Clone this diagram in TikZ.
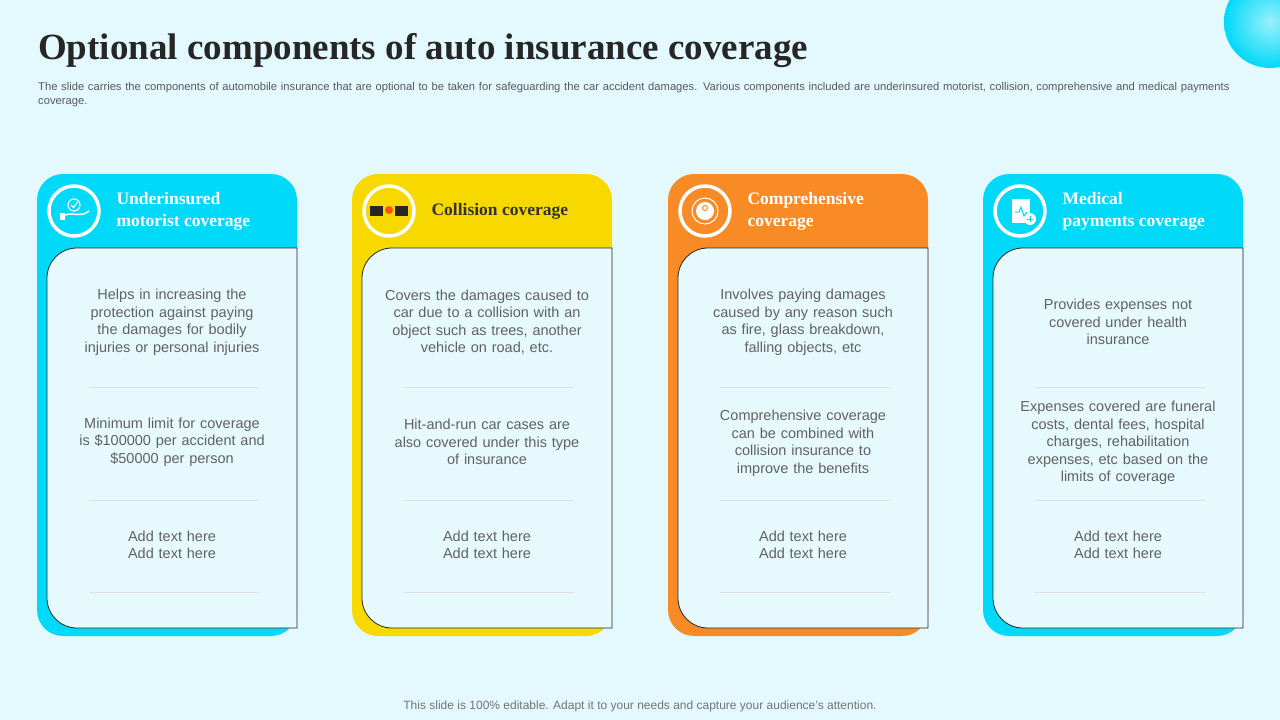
\documentclass[tikz,border=0pt]{standalone}
\usepackage{fontspec}
\setmainfont{Liberation Serif}
\setsansfont{Liberation Sans}
\begin{document}
\begin{tikzpicture}[x=1pt,y=-1pt,
  body/.style={font=\sffamily\fontsize{14.5}{17.5}\selectfont, text=black!62, align=center, text width=210pt},
  head/.style={font=\bfseries\fontsize{17.5}{22}\selectfont, anchor=west, align=left},
  sep/.style={draw=black!12, line width=0.8pt},
  ring/.style={circle, draw=white, line width=3.5pt, minimum size=50pt}]
\definecolor{bg}{HTML}{E4F9FE}
\definecolor{cy}{HTML}{00D9F7}
\definecolor{ye}{HTML}{F7D900}
\definecolor{or}{HTML}{F88B25}
\definecolor{panel}{HTML}{E6FAFE}
\useasboundingbox (0,0) rectangle (1280,720);
\fill[bg] (0,0) rectangle (1280,720);
\begin{scope}
\clip (0,0) rectangle (1280,720);
\shade[inner color=cy!40, outer color=cy] (1270,22) circle (46);
\end{scope}
\node[anchor=west, font=\bfseries\fontsize{37}{42}\selectfont, text=black!85, inner sep=0] (title) at (38,51) {Optional components of auto insurance coverage};
\node[anchor=north west, font=\sffamily\fontsize{11.2}{14.5}\selectfont, text=black!65, text width=1205pt, align=left, inner sep=0] (sub) at (38,82) {The slide carries the components of automobile insurance that are optional to be taken for safeguarding the car accident damages. Various components included are underinsured motorist, collision, comprehensive and medical payments coverage.};
\node[font=\sffamily\fontsize{12}{14}\selectfont, text=black!55] (foot) at (640,706) {This slide is 100\% editable. Adapt it to your needs and capture your audience's attention.};
\foreach \x/\c/\tc/\t/\i [count=\k] in {
  37/cy/white/{Underinsured\\motorist coverage}/1,
  352/ye/black!80/{Collision coverage}/2,
  668/or/white/{Comprehensive\\coverage}/3,
  983/cy/white/{Medical\\payments coverage}/4}{
  \fill[\c, rounded corners=26pt] (\x,174) rectangle ++(260,462);
  \draw[black!85, fill=panel, line width=0.8pt] (\x+260,248) -- (\x+40,248) to[out=180,in=90] (\x+10,278) -- (\x+10,598) to[out=-90,in=180] (\x+40,628) -- (\x+260,628) -- cycle;
  \node[ring] (ic\k) at (\x+37,211) {};
  \node[head, text=\tc] (h\k) at (\x+76,211) {\t};
  \draw[sep] (\x+52,387) -- (\x+222,387);
  \draw[sep] (\x+52,500) -- (\x+222,500);
  \draw[sep] (\x+52,592) -- (\x+222,592);
  \node[body] (c\k) at (\x+135,545) {Add text here\\Add text here};
}
% icons
\draw[white, line width=1.2pt] (74,205) circle (6);
\draw[white, line width=1.2pt] (71,205) -- (73.5,207.5) -- (77.5,202);
\fill[white] (60,213) rectangle (65,220);
\draw[white, line width=1.5pt] (65,215) .. controls (75,212) and (80,218) .. (89,211);
\fill[black!85] (370,206) rectangle (383,216);
\fill[black!85] (395,206) rectangle (408,216);
\fill[or!60!red] (389,210) circle (4);
\fill[white] (705,211) circle (9);
\draw[white, line width=1pt] (705,211) circle (13);
\draw[or, line width=1pt] (705,208) circle (2.5);
\fill[white] (1012,199) rectangle (1030,223);
\draw[cy, line width=1pt] (1015,212) -- (1019,212) -- (1021,207) -- (1024,216) -- (1027,212);
\fill[white] (1030,219) circle (6);
\draw[cy, line width=1pt] (1027,219) -- (1033,219) (1030,216) -- (1030,222);
% texts
\node[body] (a1) at (172,322) {Helps in increasing the\\protection against paying\\the damages for bodily\\injuries or personal injuries};
\node[body] (b1) at (172,442) {Minimum limit for coverage\\is \$100000 per accident and\\\$50000 per person};
\node[body] (a2) at (487,322) {Covers the damages caused to\\car due to a collision with an\\object such as trees, another\\vehicle on road, etc.};
\node[body] (b2) at (487,442) {Hit-and-run car cases are\\also covered under this type\\of insurance};
\node[body] (a3) at (803,322) {Involves paying damages\\caused by any reason such\\as fire, glass breakdown,\\falling objects, etc};
\node[body] (b3) at (803,443) {Comprehensive coverage\\can be combined with\\collision insurance to\\improve the benefits};
\node[body] (a4) at (1118,322) {Provides expenses not\\covered under health\\insurance};
\node[body] (b4) at (1118,443) {Expenses covered are funeral\\costs, dental fees, hospital\\charges, rehabilitation\\expenses, etc based on the\\limits of coverage};
\end{tikzpicture}
\end{document}
